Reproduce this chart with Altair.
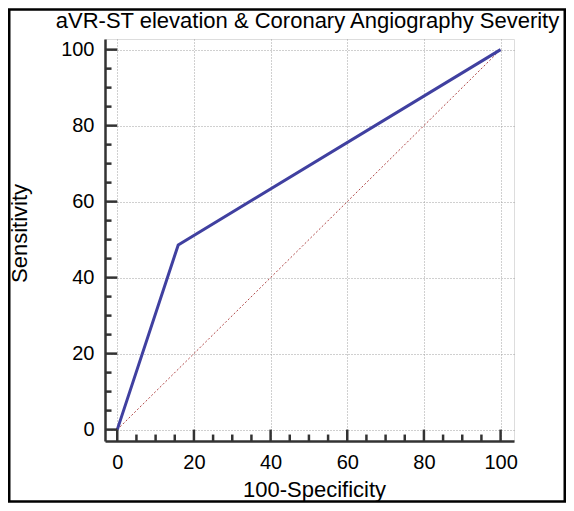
import altair as alt
import pandas as pd

# ---- data ----
roc_x = [0, 15.9, 100]
roc_y = [0, 48.6, 100]
diag_x = [0, 100]
diag_y = [0, 100]
major_ticks = [0, 20, 40, 60, 80, 100]
minor_ticks = [5, 10, 15, 25, 30, 35, 45, 50, 55, 65, 70, 75, 85, 90, 95]

title_text = "aVR-ST elevation & Coronary Angiography Severity"
x_title = "100-Specificity"
y_title = "Sensitivity"

XMIN, XMAX = -3.2, 103.5
YMIN, YMAX = -3.0, 102.8

FONT = "Liberation Sans"
AXIS_COL = "#333333"

SX = alt.Scale(domain=[XMIN, XMAX], nice=False, zero=False)
SY = alt.Scale(domain=[YMIN, YMAX], nice=False, zero=False)

AX_X = alt.Axis(values=major_ticks, title=x_title, ticks=False, domain=True,
                domainColor=AXIS_COL, domainWidth=2.5, grid=True,
                gridColor="#a0a0a0", gridDash=[1, 2], gridWidth=1,
                labelFont=FONT, labelFontSize=20, labelColor="black",
                labelPadding=11, titleFont=FONT, titleFontSize=22,
                titleFontWeight="normal", titleColor="black", titlePadding=7,
                titleX=209)
AX_Y = alt.Axis(values=major_ticks, title=y_title, ticks=False, domain=True,
                domainColor=AXIS_COL, domainWidth=2.5, grid=True,
                gridColor="#a0a0a0", gridDash=[1, 2], gridWidth=1,
                labelFont=FONT, labelFontSize=20, labelColor="black",
                labelPadding=11, titleFont=FONT, titleFontSize=22,
                titleFontWeight="normal", titleColor="black", titlePadding=29,
                titleY=194)

roc_df = pd.DataFrame({"x": roc_x, "y": roc_y})
diag_df = pd.DataFrame({"x": diag_x, "y": diag_y})
maj_df = pd.DataFrame({"v": major_ticks})
min_df = pd.DataFrame({"v": minor_ticks})

diag = alt.Chart(diag_df).mark_line(color="#b04848", strokeWidth=1, strokeDash=[2, 2]).encode(
    x=alt.X("x:Q", scale=SX, axis=AX_X),
    y=alt.Y("y:Q", scale=SY, axis=AX_Y),
)

roc = alt.Chart(roc_df).mark_line(color="#4040a0", strokeWidth=3).encode(
    x=alt.X("x:Q", scale=SX, axis=AX_X),
    y=alt.Y("y:Q", scale=SY, axis=AX_Y),
)

tick_style = dict(color=AXIS_COL, strokeWidth=2.5)

y_major = alt.Chart(maj_df).mark_rule(**tick_style).encode(
    y=alt.Y("v:Q", scale=SY, axis=AX_Y),
    x=alt.XDatum(XMIN, scale=SX, axis=AX_X),
    x2=alt.X2Datum(0),
)
y_minor = alt.Chart(min_df).mark_rule(**tick_style).encode(
    y=alt.Y("v:Q", scale=SY, axis=AX_Y),
    x=alt.XDatum(XMIN, scale=SX, axis=AX_X),
    x2=alt.X2Datum(XMIN + 1.7),
)
x_major = alt.Chart(maj_df).mark_rule(**tick_style).encode(
    x=alt.X("v:Q", scale=SX, axis=AX_X),
    y=alt.YDatum(YMIN, scale=SY, axis=AX_Y),
    y2=alt.Y2Datum(0),
)
x_minor = alt.Chart(min_df).mark_rule(**tick_style).encode(
    x=alt.X("v:Q", scale=SX, axis=AX_X),
    y=alt.YDatum(YMIN, scale=SY, axis=AX_Y),
    y2=alt.Y2Datum(YMIN + 1.7),
)

frame = alt.Chart(maj_df).transform_filter(alt.datum.v == 0).mark_rect(
    filled=False, stroke="black", strokeWidth=2.5
).encode(
    x=alt.value(-95.75), x2=alt.value(459.75),
    y=alt.value(-29.5), y2=alt.value(462.5),
)

chart = alt.layer(diag, roc, y_major, y_minor, x_major, x_minor, frame).properties(
    width=409,
    height=402,
    title=alt.TitleParams(title_text, font=FONT, fontSize=22, fontWeight="normal",
                          color="black", anchor="middle", offset=6, dy=31, dx=-2),
    autosize=alt.AutoSizeParams(type="none"),
    padding={"left": 97, "top": 31, "right": 52, "bottom": 62},
).configure_view(stroke=None).configure(background="white")

chart.save("out.html", embed_options={"renderer": "svg", "actions": False})
